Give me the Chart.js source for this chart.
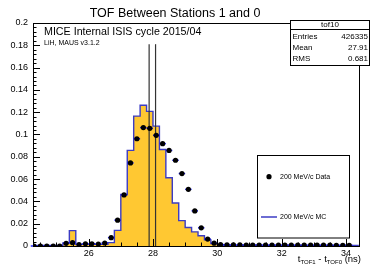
<!DOCTYPE html>
<html>
<head>
<meta charset="utf-8">
<script src="https://cdn.jsdelivr.net/npm/chart.js@4/dist/chart.umd.min.js"></script>
<style>
  html, body { margin: 0; padding: 0; background: #fff; }
</style>
</head>
<body>
<canvas id="tof10" width="371" height="266"></canvas>
<script>
const FONT = "'Liberation Sans', Arial, Helvetica, sans-serif";

// data histogram: bin centres (ns), bin width 0.2
const binWidth = 0.2;
const dataCentres = [
  24.3, 24.5, 24.7, 24.9, 25.1, 25.3, 25.5, 25.7, 25.9, 26.1,
  26.3, 26.5, 26.7, 26.9, 27.1, 27.3, 27.5, 27.7, 27.9, 28.1,
  28.3, 28.5, 28.7, 28.9, 29.1, 29.3, 29.5, 29.7, 29.9, 30.1,
  30.3, 30.5, 30.7, 30.9, 31.1, 31.3, 31.5, 31.7, 31.9, 32.1,
  32.3, 32.5, 32.7, 32.9, 33.1, 33.3, 33.5, 33.7, 33.9, 34.1
];
const dataVals = [
  0, 0, 0, 0, 0, 0.0024, 0.003, 0.0013, 0.002, 0.002,
  0.0017, 0.0027, 0.0075, 0.0232, 0.0458, 0.0745, 0.0962, 0.1062, 0.1055, 0.0993,
  0.0918, 0.0857, 0.0769, 0.065, 0.0508, 0.0315, 0.0163, 0.0062, 0.0025, 0.0013,
  0.0011, 0.001, 0.001, 0.0009, 0.0009, 0.0009, 0.0008, 0.0008, 0.0008, 0.0008,
  0.0008, 0.0007, 0.0007, 0.0007, 0.0007, 0.0007, 0.0007, 0.0006, 0.0006, 0.0006
];

// MC histogram: bin edges (ns) and bin contents
const mcEdges = [
  24.2, 24.4, 24.6, 24.8, 25.0, 25.2, 25.4, 25.6, 25.8, 26.0,
  26.2, 26.4, 26.6, 26.8, 27.0, 27.2, 27.4, 27.6, 27.8, 28.0,
  28.2, 28.4, 28.6, 28.8, 29.0, 29.2, 29.4, 29.6, 29.8, 30.0,
  30.2, 30.4, 30.6, 30.8, 31.0, 31.2, 31.4, 31.6, 31.8, 32.0,
  32.2, 32.4, 32.6, 32.8, 33.0, 33.2, 33.4, 33.6, 33.8, 34.0,
  34.2, 34.4
];
const mcVals = [
  0.0005, 0.0005, 0.0005, 0.0005, 0.0006, 0.0028, 0.0138, 0.0015, 0.0015, 0.0015,
  0.0015, 0.0015, 0.003, 0.014, 0.0462, 0.0858, 0.1165, 0.1262, 0.1207, 0.1075,
  0.0866, 0.0612, 0.0386, 0.0228, 0.0166, 0.0127, 0.0092, 0.0055, 0.0022, 0.001,
  0.0006, 0.0006, 0.0006, 0.0006, 0.0006, 0.0006, 0.0006, 0.0006, 0.0006, 0.0006,
  0.0006, 0.0006, 0.0006, 0.0006, 0.0006, 0.0006, 0.0006, 0.0006, 0.0006, 0.0006,
  0.0006
];

// vertical marker lines
const markerX = [27.88, 28.08];
const markerTop = 0.181;

const xTicks = [26, 28, 30, 32, 34];
const yTicks = [0, 0.02, 0.04, 0.06, 0.08, 0.1, 0.12, 0.14, 0.16, 0.18, 0.2];

const statTitle = "tof10";
const statNames = ["Entries", "Mean", "RMS"];
const statValues = ["426335", "27.91", "0.681"];

const legendLabels = ["200 MeV/c Data", "200 MeV/c MC"];

const MC_LINE = "#3c3cc4";
const MC_FILL = "#ffc832";

const rootStyle = {
  id: "rootStyle",
  beforeDatasetDraw(chart, args) {
    if (args.index !== 0) return;
    // blue x error bars under the data markers
    const { ctx, scales: { x, y } } = chart;
    ctx.save();
    ctx.strokeStyle = "#1a1aff";
    ctx.lineWidth = 1.4;
    dataCentres.forEach((c, i) => {
      const py = y.getPixelForValue(dataVals[i]);
      ctx.beginPath();
      ctx.moveTo(x.getPixelForValue(c - binWidth / 2), py);
      ctx.lineTo(x.getPixelForValue(c + binWidth / 2), py);
      ctx.stroke();
    });
    ctx.restore();
  },
  afterDraw(chart) {
    const { ctx, chartArea: a, scales: { x, y } } = chart;
    ctx.save();
    ctx.strokeStyle = "#000";
    ctx.lineWidth = 1;
    ctx.strokeRect(a.left + 0.5, a.top + 0.5, a.right - a.left - 1, a.bottom - a.top);

    // ticks inside the frame
    ctx.beginPath();
    for (let v = 0; v <= 0.2001; v += 0.004) {
      const py = Math.round(y.getPixelForValue(v)) + 0.5;
      const major = Math.abs(v / 0.02 - Math.round(v / 0.02)) < 1e-6;
      ctx.moveTo(a.left, py);
      ctx.lineTo(a.left + (major ? 7 : 3.5), py);
    }
    for (let v = 24.5; v <= 34.01; v += 0.5) {
      const px = Math.round(x.getPixelForValue(v)) + 0.5;
      const major = xTicks.includes(v);
      ctx.moveTo(px, a.bottom);
      ctx.lineTo(px, a.bottom - (major ? 7 : 3.5));
    }
    ctx.stroke();

    // titles
    ctx.fillStyle = "#000";
    ctx.textBaseline = "alphabetic";
    ctx.textAlign = "center";
    ctx.font = "12.5px " + FONT;
    ctx.fillText("TOF Between Stations 1 and 0", 175, 17);
    ctx.textAlign = "left";
    ctx.font = "10.7px " + FONT;
    ctx.fillText("MICE Internal ISIS cycle 2015/04", 44, 35);
    ctx.font = "7px " + FONT;
    ctx.fillText("LiH, MAUS v3.1.2", 44, 45);

    // x axis title with subscripts, right aligned
    const parts = [["t", 9.5, 0], ["TOF1", 6, 2], [" - t", 9.5, 0], ["TOF0", 6, 2], [" (ns)", 9.5, 0]];
    let w = 0;
    parts.forEach(p => { ctx.font = p[1] + "px " + FONT; w += ctx.measureText(p[0]).width; });
    let tx = 361 - w;
    parts.forEach(p => {
      ctx.font = p[1] + "px " + FONT;
      ctx.fillText(p[0], tx, 262 + p[2]);
      tx += ctx.measureText(p[0]).width;
    });

    // stat box
    ctx.fillStyle = "#fff";
    ctx.fillRect(290.5, 20.5, 79, 45);
    ctx.strokeRect(290.5, 20.5, 79, 45);
    ctx.beginPath();
    ctx.moveTo(290.5, 29.5);
    ctx.lineTo(369.5, 29.5);
    ctx.stroke();
    ctx.fillStyle = "#000";
    ctx.font = "8px " + FONT;
    ctx.textBaseline = "middle";
    ctx.textAlign = "center";
    ctx.fillText(statTitle, 330, 25.2);
    statNames.forEach((n, i) => {
      const ry = 36.5 + i * 11;
      ctx.textAlign = "left";
      ctx.fillText(n, 292.5, ry);
      ctx.textAlign = "right";
      ctx.fillText(statValues[i], 368, ry);
    });

    // legend box
    ctx.fillStyle = "#fff";
    ctx.fillRect(257.5, 155.5, 92, 82.5);
    ctx.strokeRect(257.5, 155.5, 92, 82.5);
    ctx.fillStyle = "#000";
    ctx.beginPath();
    ctx.arc(269, 176.7, 2.6, 0, Math.PI * 2);
    ctx.fill();
    ctx.strokeStyle = MC_LINE;
    ctx.lineWidth = 1.5;
    ctx.beginPath();
    ctx.moveTo(261, 217);
    ctx.lineTo(277, 217);
    ctx.stroke();
    ctx.font = "7px " + FONT;
    ctx.textAlign = "left";
    ctx.fillText(legendLabels[0], 280, 177);
    ctx.fillText(legendLabels[1], 280, 217);
    ctx.restore();
  }
};

new Chart(document.getElementById("tof10"), {
  type: "scatter",
  data: {
    datasets: [
      {
        label: legendLabels[0],
        data: dataCentres.map((c, i) => ({ x: c, y: dataVals[i] })),
        pointRadius: 2.6,
        pointBackgroundColor: "#000",
        pointBorderWidth: 0,
        showLine: false,
        order: 0
      },
      ...markerX.map(m => ({
        type: "line",
        data: [{ x: m, y: 0 }, { x: m, y: markerTop }],
        borderColor: "#333",
        borderWidth: 1.2,
        pointRadius: 0,
        order: 1
      })),
      {
        type: "line",
        label: legendLabels[1],
        data: mcEdges.map((e, i) => ({ x: e, y: mcVals[Math.min(i, mcVals.length - 1)] })),
        stepped: "before",
        fill: "origin",
        backgroundColor: MC_FILL,
        borderColor: MC_LINE,
        borderWidth: 1.4,
        pointRadius: 0,
        order: 2
      }
    ]
  },
  options: {
    responsive: false,
    devicePixelRatio: 1,
    animation: false,
    layout: { padding: { top: 23, right: 11, left: 0, bottom: 0 } },
    plugins: { legend: { display: false }, tooltip: { enabled: false }, title: { display: false } },
    scales: {
      x: {
        type: "linear",
        min: 24.27,
        max: 34.435,
        afterBuildTicks: s => { s.ticks = xTicks.map(v => ({ value: v })); },
        afterFit: s => { s.height = 20; },
        grid: { display: false, drawTicks: false },
        border: { display: false },
        ticks: { font: { family: FONT, size: 9 }, color: "#000", padding: 2, maxRotation: 0, autoSkip: false }
      },
      y: {
        min: 0,
        max: 0.2,
        afterBuildTicks: s => { s.ticks = yTicks.map(v => ({ value: v })); },
        afterFit: s => { s.width = 33; },
        grid: { display: false, drawTicks: false },
        border: { display: false },
        ticks: {
          font: { family: FONT, size: 9 },
          color: "#000",
          padding: 5,
          callback: v => String(+v.toFixed(2))
        }
      }
    }
  },
  plugins: [rootStyle]
});
</script>
</body>
</html>
